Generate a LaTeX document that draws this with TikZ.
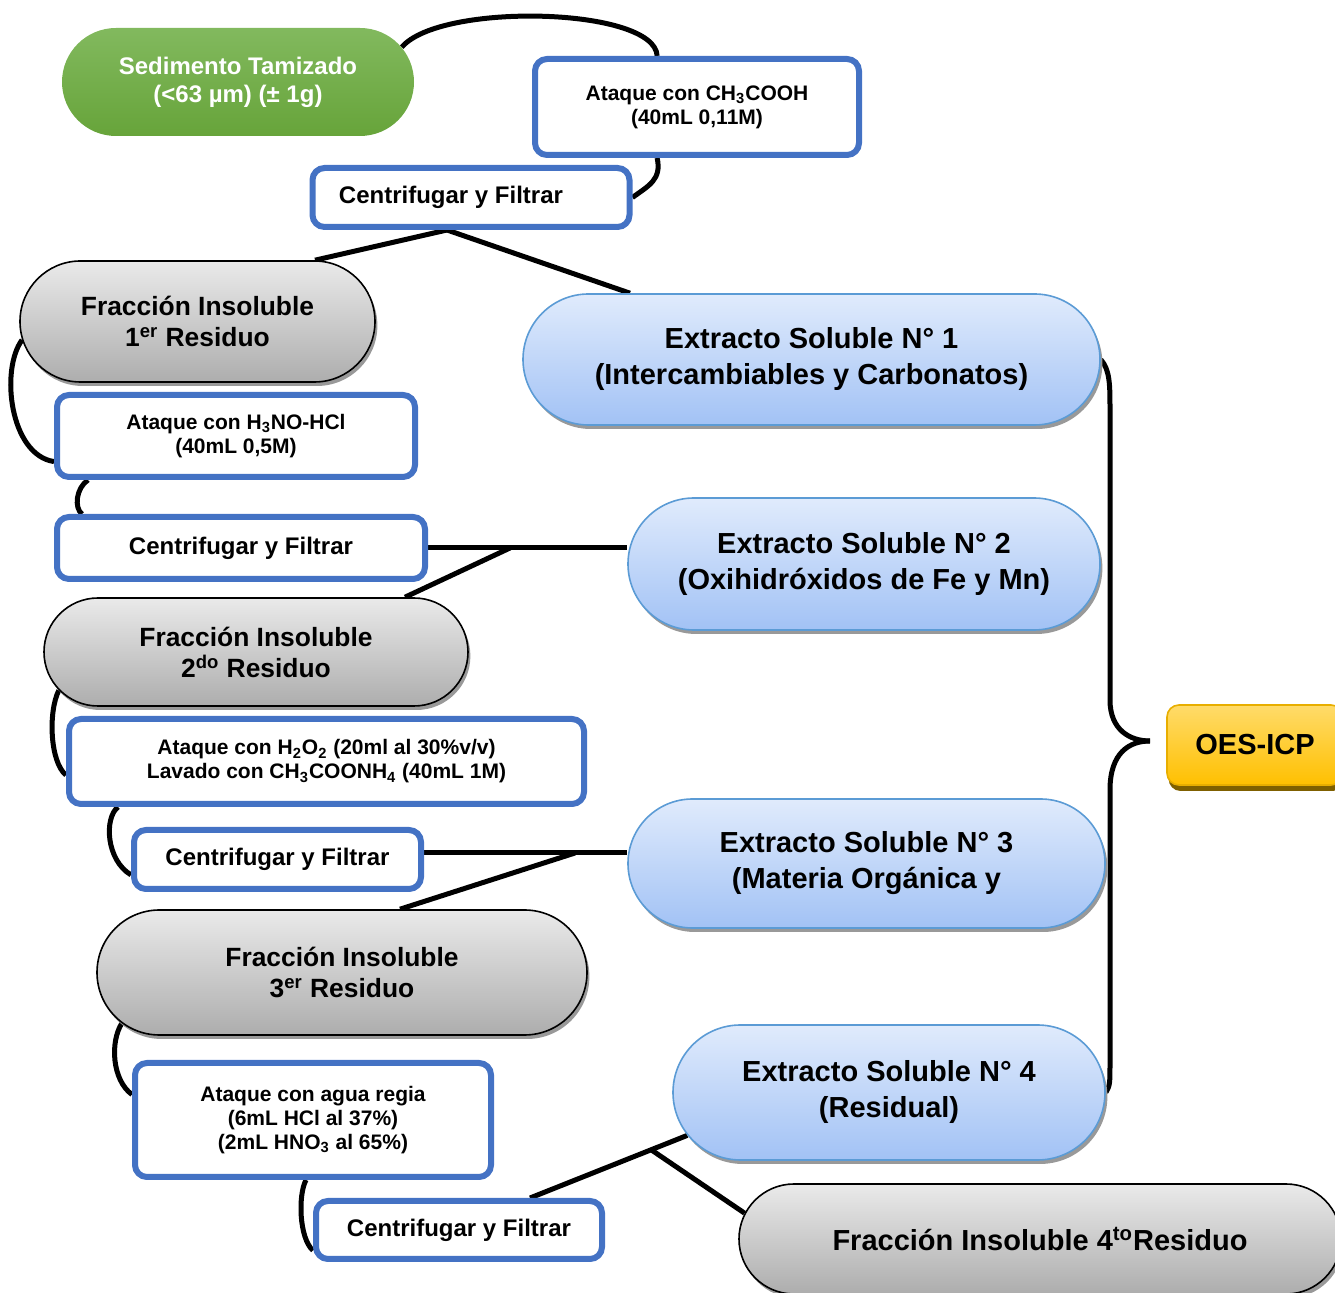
\documentclass[tikz,border=0pt]{standalone}
\usepackage{fontspec}
\setmainfont{Liberation Sans}
\usepackage{tikz}
\usetikzlibrary{shapes.misc, shadows, backgrounds}

\definecolor{pasoazul}{HTML}{4472C4}
\definecolor{verdeA}{HTML}{82B95E}
\definecolor{verdeB}{HTML}{67A43A}
\definecolor{grisA}{HTML}{EAEAEA}
\definecolor{grisB}{HTML}{ADADAD}
\definecolor{azulA}{HTML}{E0EBFC}
\definecolor{azulB}{HTML}{A2C2F5}
\definecolor{azulborde}{HTML}{5B9BD5}
\definecolor{oroA}{HTML}{FFDB6A}
\definecolor{oroB}{HTML}{FFC000}
\definecolor{oroborde}{HTML}{E8AE00}
\definecolor{orosombra}{HTML}{7F6000}

\begin{document}
\begin{tikzpicture}[x=0.5pt, y=-0.5pt,
  every node/.style={align=center, inner sep=0pt},
  paso/.style={draw=pasoazul, line width=3pt, rounded corners=6pt, fill=white, font=\fontsize{10.5}{12}\selectfont\bfseries},
  centr/.style={paso, font=\fontsize{12}{14}\selectfont\bfseries},
  residuo/.style={rounded rectangle, draw=black, line width=0.8pt, top color=grisA, bottom color=grisB, drop shadow={shadow xshift=1.2pt, shadow yshift=-2pt, fill=black!40, opacity=1}, font=\fontsize{13.2}{15.5}\selectfont\bfseries},
  extracto/.style={rounded rectangle, draw=azulborde, line width=0.8pt, top color=azulA, bottom color=azulB, drop shadow={shadow xshift=1.2pt, shadow yshift=-2pt, fill=black!40, opacity=1}, font=\fontsize{14.5}{18}\selectfont\bfseries},
  linea/.style={line width=2.5pt}]
\useasboundingbox (0,0) rectangle (1335,1293);

\node[rounded rectangle, top color=verdeA, bottom color=verdeB, minimum width=176pt, minimum height=54pt, text=white, font=\fontsize{12}{14}\selectfont\bfseries] (sed) at (238,82) {Sedimento Tamizado\\(<63 µm) (± 1g)};
\node[paso, minimum width=162pt, minimum height=48pt] (at1) at (697,107) {Ataque con CH\textsubscript{3}COOH\\(40mL 0,11M)};
\node[centr, minimum width=158.5pt, minimum height=29.5pt] (cf1) at (471,197.5) {Centrifugar y Filtrar\hspace*{20pt}};
\node[residuo, minimum width=177.5pt, minimum height=60.5pt] (fi1) at (197.5,321.5) {Fracción Insoluble\\1\textsuperscript{er} Residuo};
\node[extracto, minimum width=288.5pt, minimum height=65.5pt] (ex1) at (811.5,359.5) {Extracto Soluble N° 1\\(Intercambiables y Carbonatos)};
\node[paso, minimum width=179pt, minimum height=41pt] (at2) at (236,436) {Ataque con H\textsubscript{3}NO-HCl\\(40mL 0,5M)};
\node[centr, minimum width=184pt, minimum height=31pt] (cf2) at (241,548) {Centrifugar y Filtrar};
\node[extracto, minimum width=236pt, minimum height=66pt] (ex2) at (864,564) {Extracto Soluble N° 2\\(Oxihidróxidos de Fe y Mn)};
\node[residuo, minimum width=212pt, minimum height=54pt] (fi2) at (256,652) {Fracción Insoluble\\2\textsuperscript{do} Residuo};
\node[paso, minimum width=257.5pt, minimum height=42.5pt] (at3) at (326.5,761.5) {Ataque con H\textsubscript{2}O\textsubscript{2} (20ml al 30\%v/v)\\Lavado con CH\textsubscript{3}COONH\textsubscript{4} (40mL 1M)};
\node[centr, minimum width=143.5pt, minimum height=29.5pt] (cf3) at (277.5,859.5) {Centrifugar y Filtrar};
\node[extracto, minimum width=238.5pt, minimum height=64.5pt] (ex3) at (866.5,863.5) {Extracto Soluble N° 3\\(Materia Orgánica y};
\node[residuo, minimum width=245pt, minimum height=62.5pt] (fi3) at (342,972.5) {Fracción Insoluble\\3\textsuperscript{er} Residuo};
\node[paso, minimum width=178pt, minimum height=57pt] (at4) at (313,1120) {Ataque con agua regia\\(6mL HCl al 37\%)\\(2mL HNO\textsubscript{3} al 65\%)};
\node[centr, minimum width=143pt, minimum height=29pt] (cf4) at (459,1230) {Centrifugar y Filtrar};
\node[extracto, minimum width=216pt, minimum height=67.5pt] (ex4) at (889,1092.5) {Extracto Soluble N° 4\\(Residual)};
\node[residuo, minimum width=301pt, minimum height=55pt, font=\fontsize{14.5}{18}\selectfont\bfseries] (fi4) at (1040,1239) {Fracción Insoluble 4\textsuperscript{to}Residuo};
\node[draw=oroborde, line width=0.8pt, rounded corners=6pt, top color=oroA, bottom color=oroB, drop shadow={shadow xshift=0.8pt, shadow yshift=-3pt, fill=orosombra, opacity=1}, minimum width=88pt, minimum height=40pt, font=\fontsize{14.5}{18}\selectfont\bfseries] (oes) at (1255,745) {OES-ICP};

\coordinate (j2) at (510,548);
\coordinate (j3) at (575,853);
\coordinate (tip) at (1150,741);

\begin{scope}[on background layer]
\draw[linea] (sed.12) .. controls (440,2) and (655,7) .. (at1.128);
\draw[linea] (at1.232) .. controls (662,180) and (648,186) .. (cf1.east);
\draw[linea] ([xshift=-12pt]cf1.south) -- ([xshift=58.75pt]fi1.north);
\draw[linea] ([xshift=-12pt]cf1.south) -- ([xshift=-90.75pt]ex1.north);
\draw[linea] (fi1.186) .. controls (0,370) and (10,455) .. (at2.188);
\draw[linea] ([xshift=-74pt]at2.south) .. controls (76,488) and (74,508) .. ([xshift=-79.5pt]cf2.north);
\draw[linea] (cf2.east) -- (cf2.east -| ex2.west);
\draw[linea] (j2) -- ([xshift=74.5pt]fi2.north);
\draw[linea] (fi2.191) .. controls (48,712) and (50,762) .. (at3.183);
\draw[linea] ([xshift=-104.25pt]at3.south) .. controls (104,818) and (106,860) .. (cf3.186);
\draw[linea] (cf3.east |- j3) -- (j3 -| ex3.west);
\draw[linea] (j3) -- ([xshift=29pt]fi3.north);
\draw[linea] (fi3.193) .. controls (110,1042) and (112,1080) .. (at4.172);
\draw[linea] ([xshift=-3.5pt]at4.south) .. controls (298,1195) and (299,1238) .. (cf4.188);
\draw[linea] ([xshift=35.5pt]cf4.north) -- coordinate[pos=0.77] (j4) (ex4.192);
\draw[linea] (j4) -- (fi4.175);
\draw[linea] (ex1.east) .. controls (1110,370) and (1110,385) .. (1110,410) -- (1110,700) .. controls (1110,730) and (1130,741) .. (tip);
\draw[linea] (tip) .. controls (1130,741) and (1110,752) .. (1110,790) -- (1110,1060) .. controls (1110,1085) .. (ex4.east);
\end{scope}
\end{tikzpicture}
\end{document}
